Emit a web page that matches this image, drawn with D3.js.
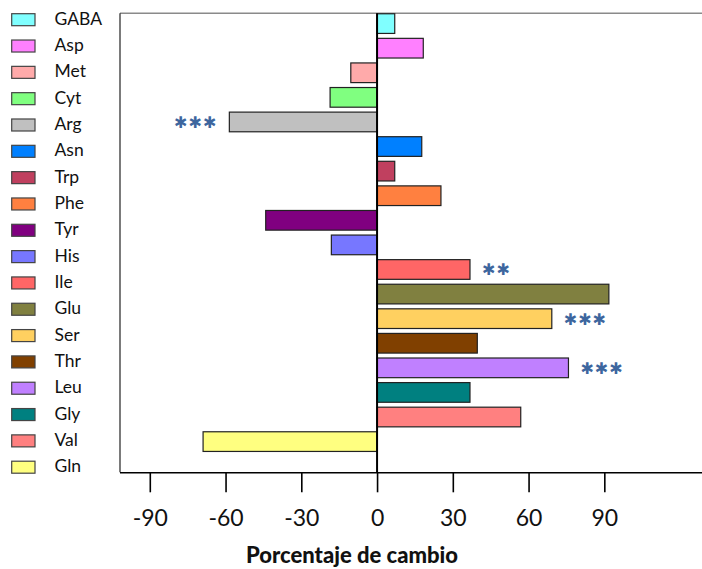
<!DOCTYPE html>
<html>
<head>
<meta charset="utf-8">
<script src="https://cdn.jsdelivr.net/npm/d3@7"></script>
<style>
  html, body { margin: 0; padding: 0; background: #fff; }
  svg { display: block; }
</style>
</head>
<body>
<svg id="chart" width="702" height="569"></svg>
<script>
const categories = ["GABA","Asp","Met","Cyt","Arg","Asn","Trp","Phe","Tyr","His","Ile","Glu","Ser","Thr","Leu","Gly","Val","Gln"];
const values = [7.0, 18.3, -10.4, -18.6, -58.5, 17.7, 7.0, 25.3, -44.1, -18.1, 36.8, 91.8, 69.2, 39.7, 75.8, 36.8, 56.9, -68.9];
const colors = ["#80FFFF","#FF80FF","#FFAAAA","#80FF80","#C0C0C0","#0080FF","#C0405F","#FF8040","#800080","#7777FF","#FF6666","#808040","#FFD060","#804000","#C080FF","#008080","#FF8080","#FFFF80"];
const tickValues = [-90, -60, -30, 0, 30, 60, 90];
const sigCategories = ["Arg", "Ile", "Ser", "Leu"];
const sigLabels = ["✱✱✱", "✱✱", "✱✱✱", "✱✱✱"];
const xLabel = "Porcentaje de cambio";

const svg = d3.select("#chart");
const font = "Lato, 'Open Sans', 'DejaVu Sans', sans-serif";

const x = d3.scaleLinear().domain([-102, 129]).range([119.5, 702.8]);
const y = d3.scaleBand().domain(categories).range([11.3, 453.9]).paddingInner(0.2).paddingOuter(0.1);
const legendY = d3.scalePoint().domain(categories).range([19.7, 467.2]);
const color = d3.scaleOrdinal().domain(categories).range(colors);

const plotTop = 13.3, plotBottom = 472.3, plotLeft = 120;

// frame
svg.append("line").attr("x1", plotLeft).attr("x2", 702).attr("y1", plotTop).attr("y2", plotTop)
  .attr("stroke", "#8a8a8a").attr("stroke-width", 1.5);
svg.append("line").attr("x1", plotLeft).attr("x2", plotLeft).attr("y1", plotTop).attr("y2", plotBottom)
  .attr("stroke", "#222").attr("stroke-width", 1.2);

// bars
const data = categories.map((c, i) => ({ cat: c, value: values[i] }));
svg.append("g").selectAll("rect").data(data).join("rect")
  .attr("x", d => x(Math.min(0, d.value)))
  .attr("y", d => y(d.cat))
  .attr("width", d => Math.abs(x(d.value) - x(0)))
  .attr("height", y.bandwidth())
  .attr("fill", d => color(d.cat))
  .attr("stroke", "#222")
  .attr("stroke-width", 1.2);

// zero line
svg.append("line").attr("x1", x(0)).attr("x2", x(0)).attr("y1", plotTop).attr("y2", plotBottom)
  .attr("stroke", "#000").attr("stroke-width", 2);

// x axis
const axis = svg.append("g").attr("transform", `translate(0,${plotBottom})`)
  .call(d3.axisBottom(x).tickValues(tickValues).tickSize(20).tickSizeOuter(0).tickPadding(17)
    .tickFormat(d => String(d)));
axis.select(".domain").attr("stroke", "#000").attr("stroke-width", 1.5);
axis.selectAll(".tick line").attr("stroke", "#000").attr("stroke-width", 1.6);
axis.selectAll(".tick text").attr("font-family", font).attr("font-size", 23).attr("fill", "#111");

svg.append("text").attr("x", 352).attr("y", 563).attr("text-anchor", "middle")
  .attr("font-family", font).attr("font-weight", "900").attr("font-size", 22).attr("fill", "#111")
  .text(xLabel);

// significance stars
const valueOf = c => values[categories.indexOf(c)];
svg.append("g").selectAll("text").data(sigCategories.map((c, i) => ({ cat: c, label: sigLabels[i] }))).join("text")
  .attr("x", d => valueOf(d.cat) < 0 ? x(valueOf(d.cat)) - 12 : x(valueOf(d.cat)) + 12)
  .attr("y", d => y(d.cat) + y.bandwidth() / 2 + 6)
  .attr("text-anchor", d => valueOf(d.cat) < 0 ? "end" : "start")
  .attr("font-family", "'DejaVu Sans', sans-serif").attr("font-size", 16).attr("letter-spacing", 1)
  .attr("fill", "#3D669E")
  .text(d => d.label);

// legend
const legend = svg.append("g").selectAll("g").data(categories).join("g")
  .attr("transform", d => `translate(0,${legendY(d)})`);
legend.append("rect").attr("x", 11.7).attr("y", -6).attr("width", 23.3).attr("height", 12)
  .attr("fill", d => color(d)).attr("stroke", "#444").attr("stroke-width", 1.2);
legend.append("text").attr("x", 54.5).attr("y", 5)
  .attr("font-family", font).attr("font-size", 17.5).attr("fill", "#111")
  .text(d => d);
</script>
</body>
</html>
